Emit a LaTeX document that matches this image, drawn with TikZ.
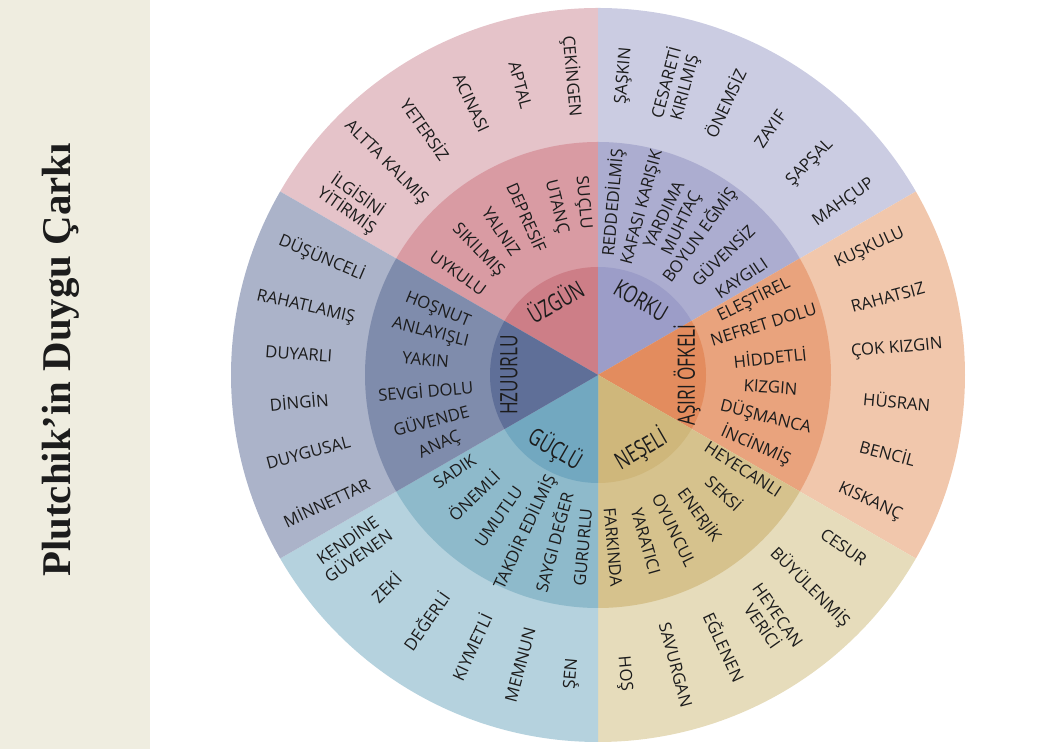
\documentclass[tikz,border=0pt]{standalone}
\usepackage{fontspec}
\setmainfont{Open Sans}
\newfontfamily\titlefont{Liberation Serif}
\newfontfamily\corefont[FakeStretch=0.72]{Open Sans}

\definecolor{panel}{HTML}{EFEDE0}
\definecolor{ink}{HTML}{1C1C1C}
\definecolor{sadO}{HTML}{E5C3C9}\definecolor{sadM}{HTML}{D99BA3}\definecolor{sadI}{HTML}{CD7E87}
\definecolor{fearO}{HTML}{CBCCE2}\definecolor{fearM}{HTML}{ACADD0}\definecolor{fearI}{HTML}{9C9DC8}
\definecolor{madO}{HTML}{F1C7AC}\definecolor{madM}{HTML}{E9A37D}\definecolor{madI}{HTML}{E38C5E}
\definecolor{joyO}{HTML}{E6DCBB}\definecolor{joyM}{HTML}{D6C28D}\definecolor{joyI}{HTML}{CFB77B}
\definecolor{powO}{HTML}{B5D2DE}\definecolor{powM}{HTML}{8EBACB}\definecolor{powI}{HTML}{72A8C0}
\definecolor{peaO}{HTML}{ABB3C9}\definecolor{peaM}{HTML}{7F8CAC}\definecolor{peaI}{HTML}{5F6F98}

\tikzset{
  word/.style={text=ink, inner sep=0pt, align=center,
    font=\fontsize{16.8}{19}\selectfont},
  core/.style={text=ink, inner sep=0pt,
    font=\corefont\fontsize{24}{25}\selectfont},
}

\begin{document}
\begin{tikzpicture}[x=1bp,y=1bp]
  \useasboundingbox (0,0) rectangle (1060,749);
  \fill[panel] (0,0) rectangle (150,749);
  \node[rotate=90, text=ink, font=\titlefont\bfseries\fontsize{41}{43}\selectfont]
    (title) at (61,389) {Plutchik’in Duygu Çarkı};

  \begin{scope}[shift={(598,374)}]
    % rings, one sector at a time
    \foreach \a/\co/\cm/\ci in {90/sadO/sadM/sadI, 30/fearO/fearM/fearI,
        -30/madO/madM/madI, -90/joyO/joyM/joyI,
        -150/powO/powM/powI, 150/peaO/peaM/peaI} {
      \fill[\co] (0,0) -- (\a:367) arc[start angle=\a, delta angle=60, radius=367] -- cycle;
      \fill[\cm] (0,0) -- (\a:233) arc[start angle=\a, delta angle=60, radius=233] -- cycle;
      \fill[\ci] (0,0) -- (\a:108) arc[start angle=\a, delta angle=60, radius=108] -- cycle;
    }

    % core emotions
    \node[core, rotate=30]  (sad)  at (120:86) {ÜZGÜN};
    \node[core, rotate=-30] (fear) at (60:86)  {KORKU};
    \node[core, rotate=90]  (mad)  at (0:89)   {AŞIRI ÖFKELİ};
    \node[core, rotate=30]  (joy)  at (-60:86) {NEŞELİ};
    \node[core, rotate=-30] (pow)  at (-120:86) {GÜÇLÜ};
    \node[core, rotate=90]  (pea)  at (180:89) {HZUURLU};

    % middle ring, left half
    \foreach \ang/\txt in {95/SUÇLU, 104/UTANÇ, 114/DEPRESİF, 124/YALNIZ,
        134/SIKILMIŞ, 144/UYKULU,
        158/HOŞNUT, 166/ANLAYIŞLI, 175/YAKIN, 185/SEVGİ DOLU,
        195/GÜVENDE, 204/ANAÇ,
        214/SADIK, 224/ÖNEMLİ, 235/UMUTLU, 245/TAKDİR EDİLMİŞ,
        255/SAYGI DEĞER, 265/GURURLU}
      \node[word, rotate=\ang+180] (mid\ang) at (\ang:173) {\txt};

    % middle ring, right half
    \foreach \ang/\txt in {85/REDDEDİLMİŞ, 75/KAFASI KARIŞIK, 64/{YARDIMA\\MUHTAÇ},
        54/BOYUN EĞMİŞ, 44/GÜVENSİZ, 34/KAYGILI,
        26/ELEŞTİREL, 17/NEFRET DOLU, 6/HİDDETLİ, -4/KIZGIN,
        -14/DÜŞMANCA, -24/İNCİNMİŞ,
        -33/HEYECANLI, -43/SEKSİ, -54/ENERJİK, -64/OYUNCUL,
        -74/YARATICI, -85/FARKINDA}
      \node[word, rotate=\ang] (mid\ang) at (\ang:173) {\txt};

    % outer ring, left half
    \foreach \ang/\txt in {95/ÇEKİNGEN, 105/APTAL, 115/ACINASI, 125/YETERSİZ,
        135/ALTTA KALMIŞ, 145/{İLGİSİNİ\\YİTİRMİŞ},
        157/DÜŞÜNCELİ, 167/RAHATLAMIŞ, 176/DUYARLI, 185/DİNGİN,
        195/DUYGUSAL, 205/MİNNETTAR,
        215/{KENDİNE\\GÜVENEN}, 225/ZEKİ, 235/DEĞERLİ, 245/KIYMETLİ,
        255/MEMNUN, 265/ŞEN}
      \node[word, rotate=\ang+180] (out\ang) at (\ang:300) {\txt};

    % outer ring, right half
    \foreach \ang/\txt in {85/ŞAŞKIN, 75/{CESARETİ\\KIRILMIŞ}, 65/ÖNEMSİZ,
        55/ZAYIF, 45/ŞAPŞAL, 35/MAHÇUP,
        25/KUŞKULU, 15/RAHATSIZ, 5/ÇOK KIZGIN, -5/HÜSRAN,
        -15/BENCİL, -25/KISKANÇ,
        -35/CESUR, -45/BÜYÜLENMİŞ, -55/{HEYECAN\\VERİCİ}, -65/EĞLENEN,
        -75/SAVURGAN, -85/HOŞ}
      \node[word, rotate=\ang] (out\ang) at (\ang:300) {\txt};
  \end{scope}
\end{tikzpicture}
\end{document}
